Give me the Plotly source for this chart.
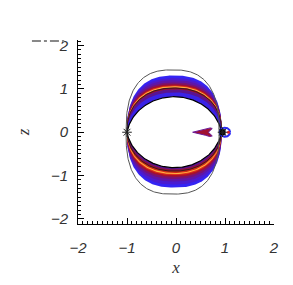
import numpy as np
import plotly.graph_objects as go

# ---------------- data ----------------
pinch_x = [-1.0, 0.93]            # left / right pinch points on z=0
# upper lobe band boundaries (peak height) and fill colour of the region inside each
upper_h = [1.31, 1.25, 1.20, 1.15, 1.11, 1.08, 1.06, 1.035, 0.99, 0.92]
upper_c = ['#3424f4', '#4a1cd0', '#5e16a8', '#7a1272', '#a0102e', '#e0301a',
           '#ffb040', '#a01028', '#5a1490', '#3a22e6']
# lower lobe band boundaries (peak depth) and colours
lower_h = [-1.28, -1.21, -1.14, -1.08, -1.03, -0.99, -0.965, -0.94, -0.90, -0.86]
lower_c = ['#3424f4', '#4a1cd0', '#5e16a8', '#7a1272', '#a8102a', '#e0301a',
           '#ffb040', '#d02a14', '#90103a', '#5a1490']
inner_line_h = [0.82, -0.82]
band_line_h = [1.02, -0.90]
# outer thin contour: centre x, half width, top, bottom, squareness
outer_cx, outer_a, outer_top, outer_bot, outer_p = -0.07, 0.95, 1.44, -1.43, 2.6
band_p = 2.5
# red tear-drop blob inside
blob_x = [0.34, 0.50, 0.62, 0.70, 0.74, 0.66, 0.74, 0.69, 0.60, 0.48, 0.34]
blob_z = [0.00, 0.045, 0.075, 0.10, 0.085, 0.00, -0.085, -0.10, -0.07, -0.04, 0.00]
# small loop at right pinch
loop_cx, loop_r = 1.0, 0.105
star_x = [-1.0, 0.95]
star_z = [0.0, 0.0]

m = (pinch_x[0] + pinch_x[1]) / 2
a = (pinch_x[1] - pinch_x[0]) / 2
s = np.linspace(0, 1, 161)


def spow(v, e):
    return np.sign(v) * np.abs(v) ** e


def curve(h):
    """boundary through both pinch points with peak h (blend of lens arc and superellipse)"""
    sg = 1 if h > 0 else -1
    H = abs(h)
    c = (H * H - a * a) / (2 * H)
    R = H - c
    phiL = np.arctan2(-c, -a)
    if phiL < 0:
        phiL += 2 * np.pi
    phiR = np.pi - phiL
    phi = phiL + (phiR - phiL) * s
    lx, lz = m + R * np.cos(phi), c + R * np.sin(phi)
    t = np.pi * s
    ex, ez = m - a * spow(np.cos(t), 2 / band_p), H * np.abs(np.sin(t)) ** (2 / band_p)
    w = np.clip((H - 0.82) / (1.30 - 0.82), 0, 1) ** 0.7
    x = (1 - w) * lx + w * ex
    z = (1 - w) * lz + w * ez
    return x, sg * z


fig = go.Figure()

for hs, cs in ((upper_h, upper_c), (lower_h, lower_c)):
    for h, col in zip(hs, cs):
        x, z = curve(h)
        fig.add_trace(go.Scatter(x=np.r_[x, x[0]], y=np.r_[z, z[0]], mode='lines',
                                 fill='toself', fillcolor=col, line=dict(width=0),
                                 hoverinfo='skip', showlegend=False))

# white lens between the two lobes
ux, uz = curve(inner_line_h[0])
lx_, lz_ = curve(inner_line_h[1])
fig.add_trace(go.Scatter(x=np.r_[ux, lx_[::-1]], y=np.r_[uz, lz_[::-1]], mode='lines',
                         fill='toself', fillcolor='white', line=dict(color='black', width=1.2),
                         hoverinfo='skip', showlegend=False))

for h in band_line_h:
    x, z = curve(h)
    fig.add_trace(go.Scatter(x=x, y=z, mode='lines', line=dict(color='#1a1a1a', width=0.8),
                             showlegend=False, hoverinfo='skip'))

# outer thin contour
t = np.linspace(0, 2 * np.pi, 361)
ox = outer_cx - outer_a * spow(np.cos(t), 2 / outer_p)
oz = np.where(np.sin(t) >= 0, outer_top, -outer_bot) * spow(np.sin(t), 2 / outer_p)
fig.add_trace(go.Scatter(x=ox, y=oz, mode='lines', line=dict(color='#555555', width=1),
                         showlegend=False, hoverinfo='skip'))

# red blob
fig.add_trace(go.Scatter(x=blob_x, y=blob_z, mode='lines', fill='toself',
                         fillcolor='#a01030', line=dict(color='#6a1a9a', width=1),
                         showlegend=False, hoverinfo='skip'))

# small blue loop on the right
fig.add_trace(go.Scatter(x=loop_cx + loop_r * np.cos(t), y=loop_r * np.sin(t), mode='lines',
                         line=dict(color='#2a2af5', width=2), showlegend=False, hoverinfo='skip'))
fig.add_trace(go.Scatter(x=[1.07], y=[0.0], mode='markers',
                         marker=dict(color='#e02020', size=3), showlegend=False, hoverinfo='skip'))
fig.add_trace(go.Scatter(x=[star_x[1]], y=[star_z[1]], mode='markers',
                         marker=dict(symbol='square', color='black', size=6), showlegend=False,
                         hoverinfo='skip'))
fig.add_trace(go.Scatter(x=star_x, y=star_z, mode='markers',
                         marker=dict(symbol='asterisk-open', size=8, color='#222',
                                     line=dict(color='#222', width=1)),
                         showlegend=False, hoverinfo='skip'))

tickfont = dict(family='Liberation Sans', size=15, color='#333', style='italic')
tv = [-2, -1, 0, 1, 2]
tt = ['\u22122', '\u22121', '0', '1', '2']
axis_common = dict(showgrid=False, zeroline=False, showline=True, linecolor='black', linewidth=1,
                   ticks='inside', ticklen=6, tickcolor='black', tickvals=tv, ticktext=tt,
                   tickfont=tickfont, mirror=False, automargin=False,
                   minor=dict(ticks='inside', ticklen=3, dtick=0.1, tickcolor='black', showgrid=False))

fig.update_xaxes(range=[-2, 2], ticklabelstandoff=10,
                 title=dict(text='x', font=dict(family='Liberation Serif', size=17, color='#333',
                                                style='italic'), standoff=6),
                 **axis_common)
fig.update_yaxes(range=[-2.12, 2.13], ticklabelstandoff=6,
                 title=dict(text='z', font=dict(family='Liberation Serif', size=17, color='#333',
                                                style='italic'), standoff=16),
                 **axis_common)

fig.add_shape(type='line', xref='paper', yref='paper', x0=-0.235, x1=-0.07, y0=0.994, y1=0.994,
              line=dict(color='#888', width=2, dash='dashdot'))

# the page adds ~8px body margin; margins compensate so the plot area lands where the reference has it
fig.update_layout(width=293, height=285, margin=dict(l=70, r=27, t=32, b=69),
                  plot_bgcolor='white', paper_bgcolor='white', showlegend=False)

fig.write_html('out.html')
